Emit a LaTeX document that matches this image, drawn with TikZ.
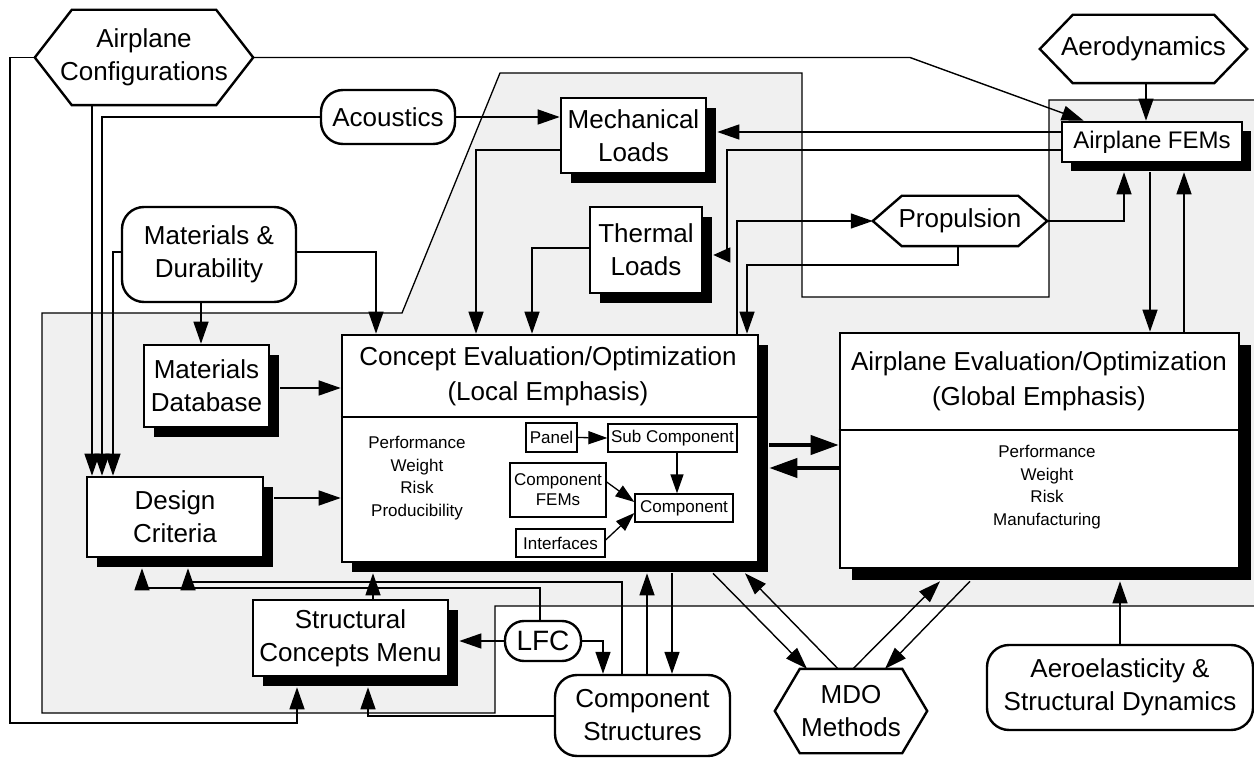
\documentclass[tikz,border=0pt]{standalone}
\usepackage{fontspec}
\setmainfont{Liberation Sans}
\usetikzlibrary{arrows.meta,calc,shadows}
\pgfdeclarelayer{bglayer}
\pgfdeclarelayer{hexlayer}
\pgfsetlayers{bglayer,hexlayer,main}
\begin{document}
\begin{tikzpicture}[x=1pt,y=-1pt,
  big/.style={font=\fontsize{26}{33}\selectfont},
  ttl/.style={font=\fontsize{26}{35}\selectfont, align=center},
  lst/.style={font=\fontsize{17}{22.7}\selectfont, align=center},
  shbox/.style={draw, line width=2.6pt, fill=white, align=center, inner sep=0pt,
    drop shadow={shadow xshift=#1, shadow yshift=-#1, fill=black, opacity=1}},
  shbox/.default=10pt,
  rbox/.style={draw, line width=2.4pt, fill=white, rounded corners=22pt, align=center, inner sep=0pt, big},
  hexn/.style={inner sep=0pt, align=center, big},
  hexline/.style={draw, line width=2.4pt, fill=white, line join=miter},
  sbox/.style={draw, line width=1.3pt, fill=white, inner sep=1pt, font=\fontsize{17}{20}\selectfont, align=center},
  conn/.style={line width=1.4pt, -{Triangle[length=22pt,width=15pt]}},
  iconn/.style={line width=1.3pt, -{Triangle[length=19pt,width=13pt]}},
  thickarr/.style={line width=4pt, -{Triangle[length=28pt,width=19pt]}},
  region/.style={line width=1.3pt},
  divider/.style={line width=2.4pt}
]
\useasboundingbox (0,0) rectangle (1254,759);
\clip (0,0) rectangle (1254,759);

\begin{pgfonlayer}{bglayer}
\fill[white] (0,0) rectangle (1254,759);
\filldraw[fill=black!6, region] (42,313) -- (402,313) -- (500,73) -- (802,73) -- (802,297) -- (1049,297) -- (1049,100) -- (1262,100) -- (1262,606) -- (495,606) -- (495,713) -- (42,713) -- cycle;
\end{pgfonlayer}

% hexagon nodes (outline drawn on hexlayer)
\node[hexn,minimum width=218pt,minimum height=95pt] (AC) at (144,57.5) {Airplane\\Configurations};
\node[hexn,minimum width=207pt,minimum height=68pt] (Aero) at (1143.5,49) {Aerodynamics};
\node[hexn,minimum width=174pt,minimum height=50pt] (Prop) at (960,221) {Propulsion};
\node[hexn,minimum width=152pt,minimum height=84pt] (MDO) at (851,711) {MDO\\Methods};

\begin{pgfonlayer}{hexlayer}
\foreach \n/\d in {AC/37, Aero/33, Prop/29, MDO/25} {
  \draw[hexline] (\n.west) -- ($(\n.north west)+(\d,0)$) -- ($(\n.north east)+(-\d,0)$) -- (\n.east) -- ($(\n.south east)+(-\d,0)$) -- ($(\n.south west)+(\d,0)$) -- cycle;
}
\end{pgfonlayer}

% rounded nodes
\node[rbox,minimum width=134pt,minimum height=54pt] (Acou) at (388,117) {Acoustics};
\node[rbox,minimum width=174pt,minimum height=95pt] (MatDur) at (209,254.5) {Materials \&\\Durability};
\node[rbox,rounded corners=19pt,font=\fontsize{28}{33}\selectfont,minimum width=76pt,minimum height=40pt] (LFC) at (543,641) {LFC};
\node[rbox,minimum width=175pt,minimum height=81pt] (CompStr) at (642.5,715.5) {Component\\Structures};
\node[rbox,minimum width=266pt,minimum height=85pt] (AeroEl) at (1120,687.5) {Aeroelasticity \&\\Structural Dynamics};

% shadowed boxes
\node[shbox,big,minimum width=145pt,minimum height=75pt] (MechL) at (633.5,135.5) {Mechanical\\Loads};
\node[shbox,big,minimum width=112pt,minimum height=86pt] (ThermL) at (646,250) {Thermal\\Loads};
\node[shbox=9pt,font=\fontsize{24}{28}\selectfont,minimum width=180pt,minimum height=40pt] (AFEM) at (1152,142) {Airplane FEMs};
\node[shbox,big,minimum width=125pt,minimum height=82pt] (MatDB) at (206.5,386) {Materials\\Database};
\node[shbox,big,minimum width=176pt,minimum height=80pt] (DesCr) at (175,517) {Design\\Criteria};
\node[shbox,big,minimum width=195pt,minimum height=76pt] (SCM) at (350.5,638) {Structural\\Concepts Menu};
\node[shbox,minimum width=416pt,minimum height=227pt] (Concept) at (550,448.5) {};
\node[shbox=12pt,minimum width=399pt,minimum height=235pt] (AEval) at (1039.5,450.5) {};

\draw[divider] (Concept.west|-0,417) -- (Concept.east|-0,417);
\draw[divider] (AEval.west|-0,430) -- (AEval.east|-0,430);
\node[ttl] (ConceptT) at (548,376) {Concept Evaluation/Optimization\\(Local Emphasis)};
\node[ttl] (AEvalT) at (1039,381) {Airplane Evaluation/Optimization\\(Global Emphasis)};
\node[lst] (ConceptL) at (417,478) {Performance\\Weight\\Risk\\Producibility};
\node[lst] (AEvalL) at (1047,487) {Performance\\Weight\\Risk\\Manufacturing};

% inner boxes
\node[sbox,minimum width=51pt,minimum height=29pt] (Panel) at (551.5,437.5) {Panel};
\node[sbox,minimum width=129pt,minimum height=28pt] (SubC) at (672.5,438) {Sub Component};
\node[sbox,minimum width=96pt,minimum height=54pt] (CFEM) at (558,490) {Component\\FEMs};
\node[sbox,minimum width=98pt,minimum height=28pt] (Comp) at (684,508) {Component};
\node[sbox,minimum width=89pt,minimum height=28pt] (Intf) at (560.5,543) {Interfaces};

\draw[iconn] (Panel.east) -- (SubC.west);
\draw[iconn] (677,0|-SubC.south) -- (677,0|-Comp.north);
\draw[iconn] (CFEM.east|-0,482) -- (Comp.west|-0,502);
\draw[iconn] (Intf.east|-0,540) -- (Comp.west|-0,513);

% connectors
\draw[conn] (AC.west) -| (10,723) -| ($(297,0|-SCM.south)+(0,10)$);
\draw[conn] (AC.east) -- (910,0|-AC.east) -- ($(AFEM.north west)+(23,0)$);
\draw[conn] (92,0|-AC.south) -- (92,0|-DesCr.north);
\draw[conn] (Acou.west) -| (102,0|-DesCr.north);
\draw[conn] (Acou.east) -- (MechL.west|-Acou.east);
\draw[conn] (MatDur.west|-0,252) -| (113,0|-DesCr.north);
\draw[conn] (MatDur.east|-0,252) -| (376,0|-Concept.north);
\draw[conn] (201,0|-MatDur.south) -- (201,0|-MatDB.north);
\draw[conn] ($(MatDB.east|-0,388)+(10,0)$) -- (Concept.west|-0,388);
\draw[conn] ($(DesCr.east|-0,498)+(10,0)$) -- (Concept.west|-0,498);
\draw[conn] (MechL.west|-0,150) -| (476,0|-Concept.north);
\draw[conn] (ThermL.west|-0,248) -| (532,0|-Concept.north);
\draw[conn] (AFEM.west|-0,132) -- ($(MechL.east|-0,132)+(10,0)$);
\draw[line width=1.4pt, -{Triangle[length=17pt,width=15pt]}] (AFEM.west|-0,150) -| (727,255) -- ($(ThermL.east|-0,255)+(10,0)$);
\draw[conn] (737,0|-Concept.north) |- (Prop.west);
\draw[conn] (958,0|-Prop.south) -- (958,265) -| (747,0|-Concept.north);
\draw[conn] (Prop.east) -| ($(1124,0|-AFEM.south)+(0,9)$);
\draw[conn] (1146,0|-Aero.south) -- (1146,0|-AFEM.north);
\draw[conn] ($(1150,0|-AFEM.south)+(0,9)$) -- (1150,0|-AEval.north);
\draw[conn] (1184,0|-AEval.north) -- ($(1184,0|-AFEM.south)+(0,9)$);
\draw[thickarr] ($(Concept.east|-0,445)+(10,0)$) -- (AEval.west|-0,445);
\draw[thickarr] (AEval.west|-0,468) -- ($(Concept.east|-0,468)+(10,0)$);
\draw[conn] (373,0|-SCM.north) -- ($(373,0|-Concept.south)+(0,10)$);
\draw[conn] (540,0|-LFC.north) -- (540,588) -| ($(142,0|-DesCr.south)+(0,10)$);
\draw[conn] (622,0|-CompStr.north) -- (622,582) -| ($(188,0|-DesCr.south)+(0,10)$);
\draw[conn] (LFC.west) -- ($(SCM.east|-LFC.west)+(10,0)$);
\draw[conn] (LFC.east) -| (603,0|-CompStr.north);
\draw[conn] (647,0|-CompStr.north) -- ($(647,0|-Concept.south)+(0,10)$);
\draw[conn] ($(672,0|-Concept.south)+(0,10)$) -- (672,0|-CompStr.north);
\draw[conn] ($(713,0|-Concept.south)+(0,10)$) -- ($(MDO.north)+(-44,0)$);
\draw[conn] ($(MDO.north)+(-13,0)$) -- ($(745,0|-Concept.south)+(0,10)$);
\draw[conn] ($(MDO.north)+(2,0)$) -- ($(940,0|-AEval.south)+(0,12)$);
\draw[conn] ($(970,0|-AEval.south)+(0,12)$) -- ($(MDO.north)+(34,0)$);
\draw[conn] (1120,0|-AeroEl.north) -- ($(1120,0|-AEval.south)+(0,12)$);
\draw[conn] (CompStr.west|-0,716) -| ($(368,0|-SCM.south)+(0,10)$);
\end{tikzpicture}
\end{document}
